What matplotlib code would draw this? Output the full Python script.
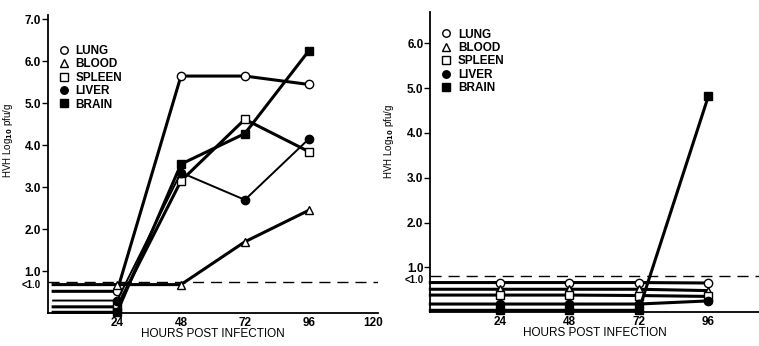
import matplotlib.pyplot as plt

plt.rcParams['font.family'] = ['Liberation Sans', 'DejaVu Sans']
plt.rcParams['font.weight'] = 'bold'

hours = [0, 24, 48, 72, 96]
series = ['LUNG', 'BLOOD', 'SPLEEN', 'LIVER', 'BRAIN']

# left panel values (log10 pfu/g); below-detection points staggered under the <1.0 line
left_lung = [0.52, 0.52, 5.65, 5.65, 5.45]
left_blood = [0.68, 0.68, 0.68, 1.70, 2.45]
left_spleen = [0.15, 0.15, 3.15, 4.62, 3.85]
left_liver = [0.30, 0.30, 3.35, 2.70, 4.15]
left_brain = [0.02, 0.02, 3.55, 4.28, 6.25]

# right panel values
right_lung = [0.66, 0.66, 0.66, 0.66, 0.65]
right_blood = [0.51, 0.51, 0.51, 0.51, 0.48]
right_spleen = [0.38, 0.38, 0.38, 0.37, 0.35]
right_liver = [0.18, 0.18, 0.18, 0.18, 0.25]
right_brain = [0.04, 0.04, 0.04, 0.04, 4.82]

left_ticks = [1, 2, 3, 4, 5, 6, 7]
right_ticks = [1, 2, 3, 4, 5, 6]

styles = {
    'LUNG': dict(marker='o', mfc='white'),
    'BLOOD': dict(marker='^', mfc='white'),
    'SPLEEN': dict(marker='s', mfc='white'),
    'LIVER': dict(marker='o', mfc='black'),
    'BRAIN': dict(marker='s', mfc='black'),
}

fig = plt.figure(figsize=(7.59, 3.46), dpi=100)
ax1 = fig.add_axes([0.063, 0.095, 0.435, 0.861])
ax2 = fig.add_axes([0.567, 0.098, 0.433, 0.867])


def draw(ax, data, widths, detect, lt_pos, ticks, ylim, xlim, xticks, leg_y):
    for name, vals in zip(series, data):
        st = styles[name]
        ax.plot(hours, vals, color='black', lw=widths[name], marker=st['marker'],
                mfc=st['mfc'], mec='black', mew=1.0, ms=6, markevery=[1, 2, 3, 4],
                clip_on=False, zorder=3, label=name)
    ax.axhline(detect, color='black', lw=1.0, dashes=(8, 5), zorder=2)
    ax.set_xlim(*xlim)
    ax.set_ylim(*ylim)
    ax.set_xticks(xticks)
    ax.set_yticks(ticks + [lt_pos])
    ax.set_yticklabels(['%.1f' % t for t in ticks] + ['<1.0'])
    ax.tick_params(axis='y', length=4, width=1, pad=1, labelsize=8.5)
    ax.get_yticklines()[-2].set_visible(False)
    ax.get_yticklabels()[-1].set_fontsize(7)
    ax.tick_params(axis='x', length=0, pad=3, labelsize=8.5)
    for s in ['top', 'right']:
        ax.spines[s].set_visible(False)
    for s in ['left', 'bottom']:
        ax.spines[s].set_linewidth(1.3)
    ax.set_xlabel('HOURS POST INFECTION', fontsize=8.5, labelpad=-1)
    ax.set_ylabel('HVH Log$_{10}$ pfu/g', fontsize=7)
    leg = ax.legend(loc='upper left', bbox_to_anchor=(0.03, leg_y), frameon=False,
                    handlelength=0, handletextpad=1.0, labelspacing=0.12,
                    borderpad=0, fontsize=8.5, markerscale=0.9)
    for h in leg.legend_handles:
        h.set_linestyle('none')


draw(ax1, [left_lung, left_blood, left_spleen, left_liver, left_brain],
     {'LUNG': 2.2, 'BLOOD': 2.2, 'SPLEEN': 2.2, 'LIVER': 1.4, 'BRAIN': 2.2},
     0.75, 0.70, left_ticks, (0, 7.1), (-2, 122), [24, 48, 72, 96, 120], 0.92)
ax1.yaxis.set_label_coords(-0.1, 0.58)

draw(ax2, [right_lung, right_blood, right_spleen, right_liver, right_brain],
     {n: 2.2 for n in series},
     0.80, 0.74, right_ticks, (0, 6.7), (0, 113.5), [24, 48, 72, 96], 0.965)
ax2.yaxis.set_label_coords(-0.106, 0.57)

fig.savefig('out.png', dpi=100)
